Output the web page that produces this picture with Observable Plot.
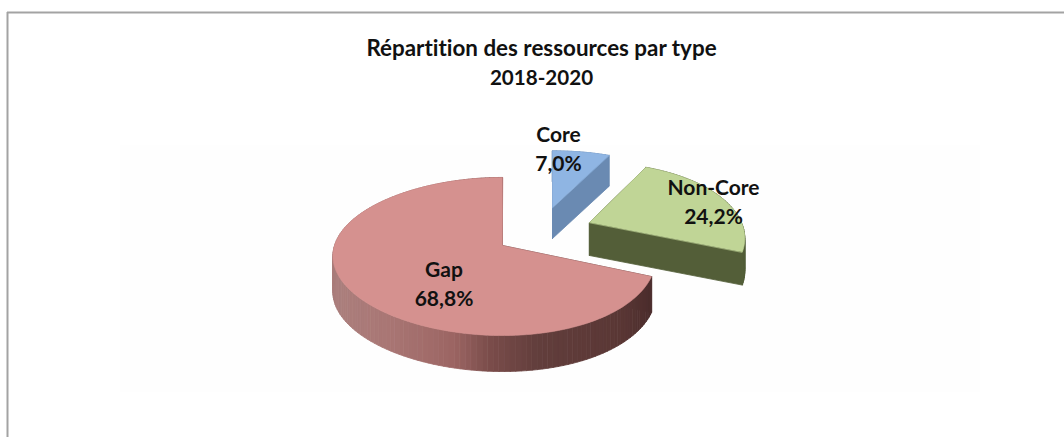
<!DOCTYPE html>
<html>
<head>
<meta charset="utf-8">
<script src="https://cdn.jsdelivr.net/npm/d3@7"></script>
<script src="https://cdn.jsdelivr.net/npm/@observablehq/plot@0.6"></script>
<style>
html,body{margin:0;padding:0;background:#fff}
svg{display:block}
svg text{font-variant-ligatures:none}
svg g[aria-label="line"]{filter:blur(0.5px)}
</style>
</head>
<body>
<div id="chart"></div>
<script>
// Data
const categories = ["Core", "Non-Core", "Gap"];
const values = [7.0, 24.2, 68.8];
const valueLabels = ["7,0%", "24,2%", "68,8%"];
const titleLines = ["Répartition des ressources par type", "2018-2020"];

// Styling and layout of each slice (same order as categories)
const topColors = ["#8fb5e3", "#c0d596", "#d5918f"];
const wallColors = ["#6a8ab2", "#535e38", null];
const apexX = [552, 589, 502];
const apexY = [207, 222, 245];
const tiltK = [0.2, 0.2, 0.139];
const radiusY = [68, 72, 77.5];
const wallDepth = [31, 33, 36];
const labelX = [558, 713, 443.5];
const labelY = [135, 188, 270];
const titleSizes = [22.4, 20.6];

const W = 1064, H = 437;
const gapWall = d3.scaleLinear()
  .domain([333, 340, 387, 453, 487, 537, 620, 653])
  .range(["#a87b7a", "#ab7e7c", "#a97674", "#9c6563", "#7b4d4b", "#623e3c", "#5a3735", "#4a2c2c"])
  .clamp(true);

// Tilted-disc projection of a pie angle (radians, clockwise from the top)
function project(a, r, i) {
  const X = r * Math.sin(a), Y = r * Math.cos(a);
  const f = 1 + tiltK[i] * Y;
  return [apexX[i] + (160 * X - 8 * X * X) / f, apexY[i] - radiusY[i] * Y / f];
}

// Slice outlines from the values
const total = d3.sum(values);
let cum = 0;
const outlines = values.map((v, i) => {
  const a0 = cum / total * 2 * Math.PI;
  cum += v;
  const a1 = cum / total * 2 * Math.PI;
  const n = Math.max(4, Math.round((a1 - a0) / 0.03));
  const pts = [project(0, 0, i)];
  for (let k = 0; k <= n; k++) pts.push(project(a0 + (a1 - a0) * k / n, 1, i));
  return pts;
});

const faceRows = outlines.flatMap((pts, i) =>
  pts.map(([x, y]) => ({x, y, id: categories[i], c: topColors[i]})));

const wallRows = outlines.flatMap((pts, i) => pts.flatMap((p, k) => {
  const q = pts[(k + 1) % pts.length];
  const c = wallColors[i] ?? gapWall((p[0] + q[0]) / 2);
  const id = `${i}-${k}`, d = wallDepth[i];
  return [
    {x: p[0], y: p[1], id, c},
    {x: q[0], y: q[1], id, c},
    {x: q[0], y: q[1] + d, id, c},
    {x: p[0], y: p[1] + d, id, c}
  ];
}));

const chart = Plot.plot({
  width: W,
  height: H,
  margin: 0,
  x: {domain: [0, W], axis: null},
  y: {domain: [H, 0], axis: null},
  color: {type: "identity"},
  style: {background: "#fff"},
  marks: [
    Plot.rect([0], {x1: () => 120, x2: () => 980, y1: () => 145, y2: () => 392, fill: "#fefefe"}),
    Plot.ruleY([12], {x1: 7, x2: W, stroke: "#a3a3a3", strokeWidth: 2}),
    Plot.ruleX([7], {y1: 12, y2: H, stroke: "#a3a3a3", strokeWidth: 2}),
    Plot.line(wallRows, {x: "x", y: "y", z: "id", fill: "c", stroke: "c", strokeWidth: 0.8, curve: "linear-closed"}),
    Plot.line(faceRows, {x: "x", y: "y", z: "id", fill: "c", stroke: "c", strokeWidth: 0.6, curve: "linear-closed"}),
    Plot.text(titleLines, {
      x: () => 541, y: (d, i) => 48 + i * 29.5, text: d => d,
      fontFamily: "Lato", fontWeight: 700, fontSize: (d, i) => titleSizes[i], fill: "#111"
    }),
    Plot.text(categories, {
      x: (d, i) => labelX[i], y: (d, i) => labelY[i], text: d => d,
      fontFamily: "Lato", fontWeight: 700, fontSize: 21, fill: "#111"
    }),
    Plot.text(valueLabels, {
      x: (d, i) => labelX[i], y: (d, i) => labelY[i] + 29, text: d => d,
      fontFamily: "Lato", fontWeight: 700, fontSize: 21, fill: "#111"
    })
  ]
});
document.getElementById("chart").append(chart);
</script>
</body>
</html>
